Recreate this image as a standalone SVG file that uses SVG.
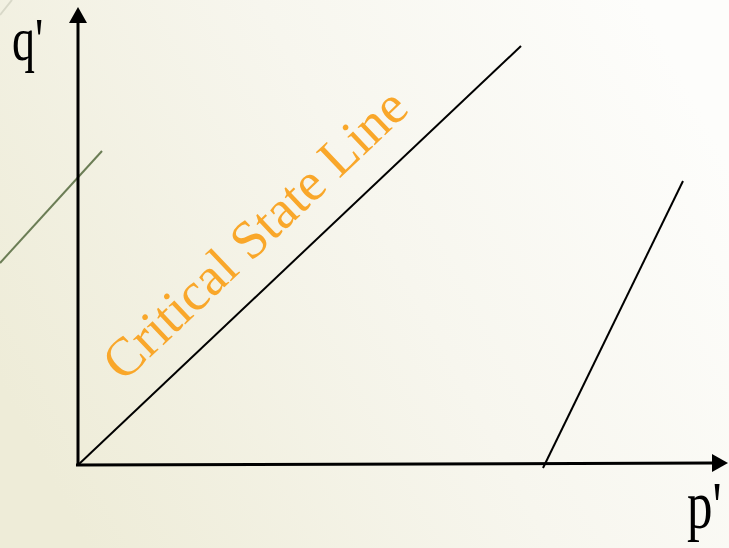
<svg xmlns="http://www.w3.org/2000/svg" width="729" height="548" viewBox="0 0 729 548">
  <defs>
    <linearGradient id="bg" x1="0" y1="0.7" x2="1" y2="0.3">
      <stop offset="0" stop-color="#eeecd8"/>
      <stop offset="0.55" stop-color="#f7f6ee"/>
      <stop offset="1" stop-color="#fdfdfb"/>
    </linearGradient>
    <marker id="arrow" viewBox="0 0 16 18" refX="0" refY="9" markerWidth="16" markerHeight="18" markerUnits="userSpaceOnUse" orient="auto">
      <path d="M0,0 L16,9 L0,18 Z" fill="#000"/>
    </marker>
    <style>
      .axis { stroke: #000; stroke-width: 3; fill: none; }
      .line { stroke: #000; stroke-width: 2; fill: none; }
      .lbl { font-family: "Liberation Serif", "Times New Roman", serif; fill: #000; }
      .csl { font-family: "Liberation Serif", "Times New Roman", serif; fill: #f9a72a; font-size: 54px; }
    </style>
  </defs>
  <rect x="0" y="0" width="729" height="548" fill="url(#bg)"/>
  <g id="decor">
    <path d="M0,263 L102,151" stroke="#6b7d55" stroke-width="2" fill="none"/>
    <path d="M0,15 L12,0" stroke="#d8d8c8" stroke-width="2" fill="none"/>
  </g>
  <g id="connectors">
    <line class="axis" x1="78" y1="466" x2="78" y2="23" marker-end="url(#arrow)"/>
    <line class="axis" x1="76" y1="465" x2="712" y2="463" marker-end="url(#arrow)"/>
    <line class="line" x1="78" y1="465" x2="521" y2="46"/>
    <line class="line" x1="543" y1="468" x2="683" y2="181"/>
  </g>
  <g id="label-q">
    <text class="lbl" transform="translate(12,59.5) scale(1,1.35)" font-size="46">q'</text>
  </g>
  <g id="label-p">
    <text class="lbl" transform="translate(687,528) scale(1,1.33)" font-size="51">p'</text>
  </g>
  <g id="label-csl">
    <text class="csl" text-anchor="middle" transform="translate(267,247) rotate(-43.4)">Critical State Line</text>
  </g>
</svg>
